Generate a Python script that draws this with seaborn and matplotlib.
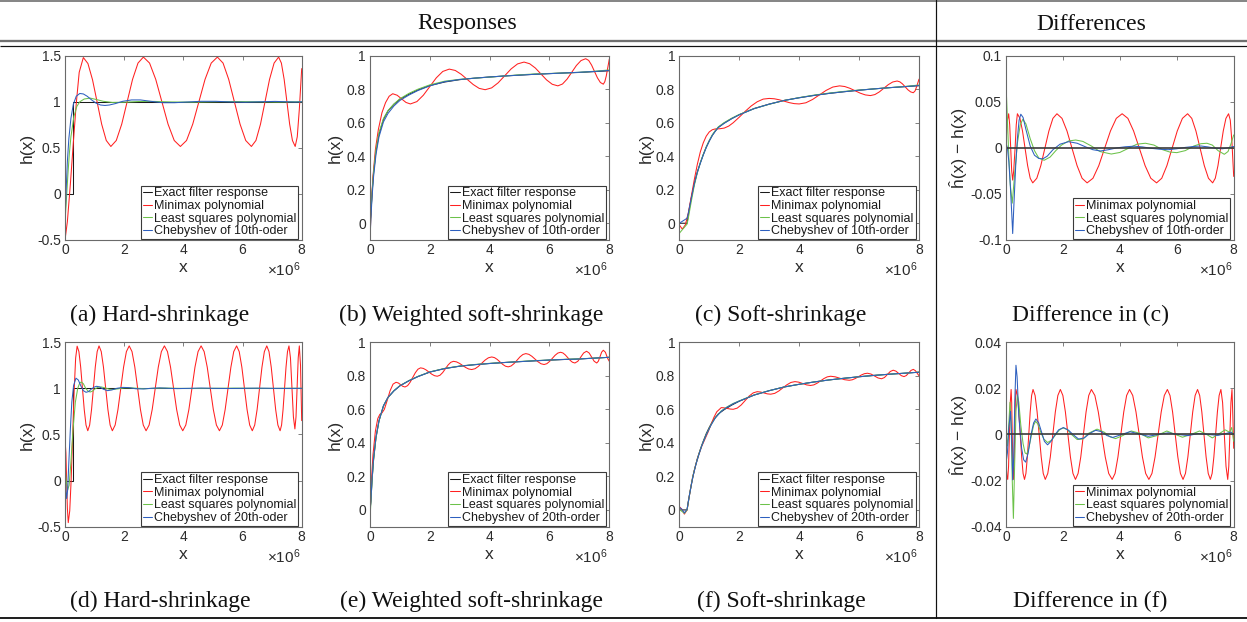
import matplotlib
matplotlib.use("Agg")
import matplotlib.pyplot as plt
import seaborn as sns
from matplotlib.lines import Line2D

sns.set_style("white")
plt.rcParams['font.family'] = ['Liberation Sans', 'DejaVu Sans']
plt.rcParams['axes.unicode_minus'] = False
plt.rcParams['mathtext.fontset'] = 'custom'
plt.rcParams['mathtext.rm'] = 'Liberation Sans'
plt.rcParams['mathtext.it'] = 'Liberation Sans:italic'

# ---------------- data (x in units of 1e6) ----------------
x_ticks = [0, 2, 4, 6, 8]
x_tick_labels = ['0', '2', '4', '6', '8']

# exact filter responses
hard_exact_x = [0, 0.27, 0.27, 8.0]
hard_exact_y = [0, 0, 1, 1]

wsoft_x = [0, 0.03, 0.07, 0.12, 0.2, 0.3, 0.45, 0.6, 0.8, 1.0, 1.3, 1.6, 2.0, 2.5, 3.0,
           3.5, 4.0, 4.5, 5.0, 5.5, 6.0, 6.5, 7.0, 7.5, 8.0]
wsoft_exact_y = [0.0, 0.05, 0.18, 0.30, 0.43, 0.53, 0.62, 0.67, 0.71, 0.74, 0.77, 0.795, 0.822,
                 0.843, 0.857, 0.866, 0.873, 0.879, 0.884, 0.889, 0.893, 0.897, 0.90, 0.905, 0.91]

soft_x = [0, 0.26, 0.3, 0.4, 0.5, 0.6, 0.7, 0.8, 0.9, 1.0, 1.1, 1.2, 1.3, 1.5, 1.75, 2.0,
          2.5, 3.0, 3.5, 4.0, 4.5, 5.0, 5.5, 6.0, 6.5, 7.0, 7.5, 8.0]
soft_exact_y = [0, 0, 0.05, 0.15, 0.235, 0.305, 0.36, 0.41, 0.455, 0.492, 0.525, 0.55, 0.572,
                0.598, 0.625, 0.648, 0.685, 0.711, 0.733, 0.749, 0.763, 0.775, 0.785, 0.794,
                0.802, 0.809, 0.815, 0.821]
softf_x = [0, 0.08, 0.17, 0.26, 0.35, 0.45, 0.55, 0.65, 0.75, 0.9, 1.05, 1.2, 1.4, 1.6, 1.8,
           2.0, 2.5, 3.0, 3.5, 4.0, 4.5, 5.0, 5.5, 6.0, 6.5, 7.0, 7.5, 8.0]

# (a) hard-shrinkage, 10th order
red_a_x = [0, 0.08, 0.18, 0.28, 0.38, 0.48, 0.62,
           0.775, 0.93, 1.085, 1.24, 1.395, 1.55,
           1.733, 1.917, 2.10, 2.283, 2.467, 2.65,
           2.858, 3.067, 3.275, 3.483, 3.692, 3.90,
           4.108, 4.317, 4.525, 4.733, 4.942, 5.15,
           5.342, 5.533, 5.725, 5.917, 6.108, 6.30,
           6.453, 6.607, 6.76, 6.913, 7.067, 7.22,
           7.313, 7.407, 7.50, 7.593, 7.687, 7.78,
           7.85, 7.92, 8.0]
red_a_y = [-0.5, -0.3, 0.1, 0.55, 0.98, 1.32, 1.48,
           1.415, 1.239, 0.998, 0.756, 0.58, 0.515,
           0.58, 0.757, 1.0, 1.243, 1.42, 1.485,
           1.42, 1.243, 1.0, 0.757, 0.58, 0.515,
           0.58, 0.757, 1.0, 1.243, 1.42, 1.485,
           1.42, 1.243, 1.0, 0.757, 0.58, 0.515,
           0.58, 0.757, 1.0, 1.243, 1.42, 1.485,
           1.42, 1.243, 1.0, 0.757, 0.58, 0.515,
           0.62, 0.92, 1.36]
green_a_x = [0, 0.05, 0.1, 0.15, 0.2, 0.3, 0.4, 0.5, 0.65, 0.85, 1.05, 1.3, 1.6, 2.0, 2.5, 3.0,
             3.6, 4.3, 5.0, 5.7, 6.5, 7.2, 7.7, 8.0]
green_a_y = [-0.3, -0.05, 0.22, 0.45, 0.62, 0.84, 0.95, 1.0, 1.03, 1.04, 1.025, 1.005, 0.993,
             0.995, 1.003, 1.004, 0.998, 0.996, 1.0, 1.003, 1.0, 0.997, 1.0, 1.0]
blue_a_x = [0, 0.04, 0.08, 0.13, 0.2, 0.28, 0.38, 0.5, 0.62, 0.75, 0.9, 1.05, 1.2, 1.35, 1.5,
            1.7, 1.95, 2.25, 2.55, 2.9, 3.3, 3.7, 4.1, 4.6, 5.1, 5.6, 6.1, 6.6, 7.1, 7.5, 7.8, 8.0]
blue_a_y = [-0.3, 0.05, 0.35, 0.6, 0.82, 0.97, 1.06, 1.09, 1.085, 1.06, 1.02, 0.985, 0.965, 0.96,
            0.965, 0.98, 1.005, 1.02, 1.02, 1.005, 0.99, 0.99, 0.997, 1.005, 1.005, 0.998, 0.995,
            1.0, 1.004, 1.0, 0.997, 1.0]

# (b) weighted soft-shrinkage, 10th order
red_b_x = [0, 0.04, 0.1, 0.18, 0.28, 0.4, 0.52, 0.64, 0.76,
           0.908, 1.055, 1.203, 1.35,
           1.567, 1.783, 2.0, 2.217, 2.433, 2.65,
           2.85, 3.05, 3.25, 3.45, 3.65, 3.85,
           4.067, 4.283, 4.5, 4.717, 4.933, 5.15,
           5.338, 5.527, 5.715, 5.903, 6.092, 6.28,
           6.435, 6.59, 6.745, 6.90, 7.055, 7.21,
           7.31, 7.408, 7.505, 7.603, 7.702, 7.8,
           7.85, 7.9, 7.95, 8.0]
red_b_y = [-0.1, 0.1, 0.28, 0.44, 0.56, 0.66, 0.72, 0.758, 0.773,
           0.764, 0.7425, 0.721, 0.712,
           0.726, 0.764, 0.816, 0.868, 0.906, 0.92,
           0.912, 0.889, 0.8585, 0.828, 0.805, 0.797,
           0.808, 0.838, 0.8795, 0.921, 0.951, 0.962,
           0.952, 0.9265, 0.891, 0.8555, 0.8295, 0.82,
           0.831, 0.8605, 0.901, 0.9415, 0.971, 0.982,
           0.972, 0.944, 0.906, 0.868, 0.84, 0.83,
           0.845, 0.88, 0.93, 0.98]
green_b_y = [-0.08, 0.06, 0.19, 0.31, 0.44, 0.54, 0.625, 0.672, 0.712, 0.743, 0.775, 0.80, 0.826,
             0.848, 0.859, 0.866, 0.872, 0.879, 0.886, 0.891, 0.894, 0.897, 0.901, 0.907, 0.915]
blue_b_y = [-0.1, 0.03, 0.16, 0.28, 0.41, 0.515, 0.605, 0.655, 0.70, 0.733, 0.765, 0.792, 0.82,
            0.845, 0.858, 0.866, 0.873, 0.879, 0.884, 0.889, 0.893, 0.897, 0.901, 0.906, 0.912]

# (c) soft-shrinkage, 10th order
red_c_x = [0, 0.1, 0.2, 0.3, 0.4, 0.5, 0.6, 0.7, 0.8, 0.9, 1.0, 1.1, 1.2, 1.35, 1.5, 1.65, 1.8,
           2.0, 2.2, 2.4, 2.6, 2.8, 3.0,
           3.167, 3.333, 3.5, 3.667, 3.833, 4.0,
           4.225, 4.45, 4.675, 4.9, 5.125, 5.35,
           5.522, 5.693, 5.865, 6.037, 6.208, 6.38,
           6.528, 6.677, 6.825, 6.973, 7.122, 7.27,
           7.36, 7.45, 7.54, 7.63, 7.72, 7.81,
           7.87, 7.93, 8.0]
red_c_y = [-0.01, -0.035, -0.01, 0.06, 0.16, 0.26, 0.35, 0.425, 0.48, 0.52, 0.545, 0.558, 0.563,
           0.564, 0.568, 0.58, 0.60, 0.633, 0.668, 0.70, 0.725, 0.741, 0.745,
           0.743, 0.737, 0.7285, 0.720, 0.714, 0.712,
           0.719, 0.739, 0.766, 0.793, 0.813, 0.82,
           0.816, 0.8055, 0.791, 0.7765, 0.766, 0.762,
           0.768, 0.784, 0.8055, 0.827, 0.843, 0.849,
           0.844, 0.8315, 0.814, 0.7965, 0.784, 0.779,
           0.79, 0.82, 0.86]
green_c_y = [-0.06, -0.005, 0.03, 0.13, 0.225, 0.30, 0.36, 0.41, 0.455, 0.493, 0.527, 0.553, 0.575,
             0.601, 0.627, 0.649, 0.684, 0.71, 0.733, 0.75, 0.765, 0.777, 0.787, 0.795, 0.802,
             0.809, 0.816, 0.825]
blue_c_y = [0.0, 0.03, 0.06, 0.15, 0.235, 0.303, 0.357, 0.407, 0.452, 0.49, 0.523, 0.549, 0.571,
            0.597, 0.624, 0.647, 0.684, 0.711, 0.733, 0.749, 0.763, 0.775, 0.785, 0.794, 0.802,
            0.809, 0.815, 0.822]

# difference in (c)
red_dc_x = [0, 0.05, 0.094, 0.13, 0.165, 0.2, 0.235, 0.27, 0.32, 0.36, 0.40,
            0.49, 0.58, 0.67, 0.76, 0.85, 0.94,
            1.082, 1.223, 1.365, 1.507, 1.648, 1.79,
            1.967, 2.143, 2.32, 2.497, 2.673, 2.85,
            3.055, 3.26, 3.465, 3.67, 3.875, 4.08,
            4.282, 4.483, 4.685, 4.887, 5.088, 5.29,
            5.472, 5.653, 5.835, 6.017, 6.198, 6.38,
            6.527, 6.673, 6.82, 6.967, 7.113, 7.26,
            7.353, 7.447, 7.54, 7.633, 7.727, 7.82,
            7.88, 7.94, 8.0]
red_dc_y = [0.005, 0.03, 0.037, 0.025, 0.0, -0.025, -0.035, -0.025, 0.0, 0.025, 0.037,
            0.032, 0.0183, -0.0005, -0.0193, -0.033, -0.038,
            -0.033, -0.0193, -0.0005, 0.0183, 0.032, 0.037,
            0.032, 0.0183, -0.0005, -0.0193, -0.033, -0.038,
            -0.033, -0.0193, -0.0005, 0.0183, 0.032, 0.037,
            0.032, 0.0183, -0.0005, -0.0193, -0.033, -0.038,
            -0.033, -0.0193, -0.0005, 0.0183, 0.032, 0.037,
            0.032, 0.0183, -0.0005, -0.0193, -0.033, -0.038,
            -0.033, -0.0193, -0.0005, 0.0183, 0.032, 0.037,
            0.03, 0.005, -0.031]
green_dc_x = [0, 0.05, 0.1, 0.15, 0.22, 0.3, 0.4, 0.5, 0.59, 0.7, 0.85, 1.0, 1.15, 1.34, 1.55,
              1.75, 1.95, 2.2, 2.45, 2.7, 3.0, 3.3, 3.7, 4.0, 4.3, 4.6, 4.9, 5.2, 5.5, 5.75,
              6.0, 6.3, 6.6, 6.85, 7.06, 7.25, 7.45, 7.67, 7.8, 7.9, 8.0]
green_dc_y = [0.07, 0.03, -0.01, -0.04, -0.06, -0.03, 0.005, 0.025, 0.031, 0.026, 0.01, -0.003,
              -0.011, -0.0135, -0.01, -0.003, 0.003, 0.0075, 0.0085, 0.007, 0.002, -0.004,
              -0.0067, -0.005, -0.0005, 0.004, 0.005, 0.003, -0.002, -0.0045, -0.0052, -0.003,
              0.002, 0.0045, 0.005, 0.003, -0.003, -0.007, -0.004, 0.004, 0.014]
blue_dc_x = [0, 0.05, 0.1, 0.15, 0.2, 0.235, 0.28, 0.34, 0.4, 0.46, 0.52, 0.6, 0.7, 0.85, 1.0,
             1.15, 1.29, 1.45, 1.65, 1.9, 2.2, 2.5, 2.8, 3.05, 3.32, 3.6, 3.9, 4.2, 4.5, 4.8,
             5.1, 5.4, 5.7, 6.0, 6.3, 6.6, 6.85, 7.1, 7.35, 7.6, 7.8, 8.0]
blue_dc_y = [0.005, 0.0, -0.015, -0.04, -0.07, -0.093, -0.06, -0.02, 0.01, 0.03, 0.0365, 0.033,
             0.02, 0.002, -0.008, -0.0115, -0.012, -0.009, -0.002, 0.004, 0.0067, 0.005, 0.001,
             -0.002, -0.0034, -0.002, 0.0, 0.0012, 0.0018, 0.001, -0.0005, -0.0015, -0.002,
             -0.001, 0.0005, 0.0015, 0.002, 0.001, -0.0005, -0.001, 0.0, 0.0015]

# (d) hard-shrinkage, 20th order
red_d_x = [0, 0.03, 0.055, 0.08, 0.11,
           0.16, 0.21, 0.26, 0.31, 0.36, 0.41,
           0.47, 0.53, 0.59, 0.65, 0.71, 0.77,
           0.833, 0.897, 0.96, 1.023, 1.087, 1.15,
           1.225, 1.3, 1.375, 1.45, 1.525, 1.6,
           1.695, 1.79, 1.885, 1.98, 2.075, 2.17,
           2.265, 2.36, 2.455, 2.55, 2.645, 2.74,
           2.843, 2.947, 3.05, 3.153, 3.257, 3.36,
           3.463, 3.567, 3.67, 3.773, 3.877, 3.98,
           4.083, 4.187, 4.29, 4.393, 4.497, 4.6,
           4.703, 4.807, 4.91, 5.013, 5.117, 5.22,
           5.317, 5.413, 5.51, 5.607, 5.703, 5.8,
           5.888, 5.977, 6.065, 6.153, 6.242, 6.33,
           6.412, 6.493, 6.575, 6.657, 6.738, 6.82,
           6.895, 6.97, 7.045, 7.12, 7.195, 7.27,
           7.32, 7.37, 7.42, 7.47, 7.52, 7.57,
           7.62, 7.67, 7.72, 7.77,
           7.8075, 7.845, 7.8825, 7.92,
           7.96, 8.0]
red_d_y = [0.45, 0.3, 0.0, -0.3, -0.456,
           -0.328, 0.022, 0.5, 0.979, 1.329, 1.457,
           1.398, 1.23, 1.0, 0.77, 0.602, 0.54,
           0.602, 0.77, 1.0, 1.23, 1.398, 1.46,
           1.398, 1.23, 1.0, 0.77, 0.602, 0.54,
           0.602, 0.77, 1.0, 1.23, 1.398, 1.46,
           1.398, 1.23, 1.0, 0.77, 0.602, 0.54,
           0.602, 0.77, 1.0, 1.23, 1.398, 1.46,
           1.398, 1.23, 1.0, 0.77, 0.602, 0.54,
           0.602, 0.77, 1.0, 1.23, 1.398, 1.46,
           1.398, 1.23, 1.0, 0.77, 0.602, 0.54,
           0.602, 0.77, 1.0, 1.23, 1.398, 1.46,
           1.398, 1.23, 1.0, 0.77, 0.602, 0.54,
           0.602, 0.77, 1.0, 1.23, 1.398, 1.46,
           1.398, 1.23, 1.0, 0.77, 0.602, 0.54,
           0.602, 0.77, 1.0, 1.23, 1.398, 1.46,
           1.33, 1.01, 0.69, 0.56,
           0.69, 1.01, 1.33, 1.46,
           1.25, 0.65]
green_d_x = [0, 0.04, 0.09, 0.14, 0.2, 0.27, 0.35, 0.43, 0.5, 0.55, 0.62, 0.7, 0.78, 0.85, 0.93,
             1.02, 1.12, 1.22, 1.35, 1.5, 1.65, 1.8, 2.0, 2.2, 2.45, 2.7, 3.0, 3.4, 3.8, 4.3,
             5.0, 5.7, 6.4, 7.1, 7.6, 8.0]
green_d_y = [0.15, 0.0, -0.1, -0.05, 0.2, 0.55, 0.85, 1.0, 1.06, 1.068, 1.05, 1.0, 0.97, 0.96,
             0.97, 0.995, 1.012, 1.015, 1.005, 0.99, 0.988, 0.995, 1.005, 1.006, 1.0, 0.996,
             1.0, 1.003, 1.0, 0.998, 1.0, 1.002, 1.0, 0.999, 1.001, 1.0]
blue_d_x = [0, 0.03, 0.056, 0.09, 0.13, 0.18, 0.23, 0.29, 0.37, 0.45, 0.53, 0.62, 0.71, 0.8,
            0.9, 1.0, 1.07, 1.17, 1.3, 1.44, 1.58, 1.75, 1.95, 2.15, 2.4, 2.65, 2.9, 3.2, 3.5,
            3.8, 4.2, 4.6, 5.0, 5.5, 6.0, 6.5, 7.0, 7.5, 8.0]
blue_d_y = [0.1, -0.1, -0.195, -0.1, 0.2, 0.55, 0.85, 1.03, 1.11, 1.09, 1.03, 0.975, 0.957,
            0.965, 0.995, 1.015, 1.022, 1.015, 0.99, 0.975, 0.982, 1.0, 1.01, 1.008, 0.995,
            0.993, 1.0, 1.005, 1.0, 0.997, 1.0, 1.003, 1.0, 0.998, 1.0, 1.002, 1.0, 0.999, 1.0]

# (e) weighted soft-shrinkage, 20th order
red_e_x = [0, 0.04, 0.1, 0.18, 0.26, 0.33, 0.4, 0.48, 0.57, 0.67, 0.77, 0.87,
           0.945, 1.02, 1.095, 1.17,
           1.257, 1.343, 1.43, 1.517, 1.603, 1.69,
           1.783, 1.877, 1.97, 2.063, 2.157, 2.25,
           2.34, 2.43, 2.52, 2.61, 2.70, 2.79,
           2.892, 2.993, 3.095, 3.197, 3.298, 3.4,
           3.512, 3.623, 3.735, 3.847, 3.958, 4.07,
           4.162, 4.253, 4.345, 4.437, 4.528, 4.62,
           4.718, 4.817, 4.915, 5.013, 5.112, 5.21,
           5.312, 5.413, 5.515, 5.617, 5.718, 5.82,
           5.912, 6.003, 6.095, 6.187, 6.278, 6.37,
           6.45, 6.53, 6.61, 6.69, 6.77, 6.85,
           6.9475, 7.045, 7.1425, 7.24,
           7.325, 7.41, 7.495, 7.58,
           7.635, 7.69, 7.745, 7.8,
           7.87, 7.94, 8.0]
red_e_y = [-0.05, 0.15, 0.33, 0.47, 0.545, 0.57, 0.578, 0.6, 0.65, 0.71, 0.75, 0.761,
           0.757, 0.747, 0.737, 0.733,
           0.741, 0.7615, 0.79, 0.8185, 0.839, 0.847,
           0.8437, 0.8345, 0.822, 0.8095, 0.8003, 0.797,
           0.803, 0.819, 0.8415, 0.864, 0.880, 0.886,
           0.8827, 0.8738, 0.8615, 0.8493, 0.8403, 0.837,
           0.842, 0.8558, 0.8745, 0.8933, 0.907, 0.912,
           0.908, 0.8973, 0.8825, 0.8678, 0.857, 0.853,
           0.8583, 0.8728, 0.8925, 0.9123, 0.9267, 0.932,
           0.9276, 0.9158, 0.8995, 0.8833, 0.8714, 0.867,
           0.8719, 0.8853, 0.9035, 0.9218, 0.9351, 0.94,
           0.9357, 0.924, 0.908, 0.892, 0.8803, 0.876,
           0.8862, 0.911, 0.9358, 0.946,
           0.9358, 0.911, 0.8862, 0.876,
           0.887, 0.914, 0.941, 0.952,
           0.94, 0.905, 0.886]
green_e_y = [-0.06, 0.05, 0.18, 0.30, 0.43, 0.53, 0.62, 0.67, 0.711, 0.741, 0.771, 0.796, 0.823,
             0.844, 0.858, 0.867, 0.874, 0.879, 0.885, 0.89, 0.894, 0.898, 0.901, 0.905, 0.91]
blue_e_y = [-0.03, 0.06, 0.19, 0.31, 0.435, 0.532, 0.621, 0.671, 0.71, 0.74, 0.77, 0.795, 0.822,
            0.843, 0.857, 0.866, 0.873, 0.879, 0.884, 0.889, 0.894, 0.897, 0.90, 0.905, 0.91]

# (f) soft-shrinkage, 20th order
red_f_x = [0, 0.08, 0.17, 0.26, 0.35, 0.45, 0.55, 0.65, 0.75, 0.85, 0.95, 1.05, 1.15, 1.25, 1.4,
           1.5, 1.6, 1.7, 1.8,
           1.933, 2.067, 2.2, 2.333, 2.467, 2.6,
           2.7125, 2.825, 2.9375, 3.05,
           3.185, 3.32, 3.455, 3.59, 3.725, 3.86,
           3.99, 4.12, 4.25, 4.38,
           4.492, 4.603, 4.715, 4.827, 4.938, 5.05,
           5.205, 5.36, 5.515, 5.67,
           5.772, 5.873, 5.975, 6.077, 6.178, 6.28,
           6.3975, 6.515, 6.6325, 6.75,
           6.8475, 6.945, 7.0425, 7.14,
           7.23, 7.32, 7.41, 7.5,
           7.5775, 7.655, 7.7325, 7.81,
           7.88, 7.94, 8.0]
red_f_y = [0.02, 0.005, -0.025, 0.0, 0.1, 0.2, 0.27, 0.33, 0.38, 0.42, 0.46, 0.505, 0.55, 0.585, 0.61,
           0.6085, 0.605, 0.6015, 0.60,
           0.607, 0.626, 0.6525, 0.679, 0.698, 0.705,
           0.703, 0.6975, 0.692, 0.69,
           0.695, 0.709, 0.7275, 0.746, 0.76, 0.765,
           0.7616, 0.7535, 0.7454, 0.742,
           0.7457, 0.7558, 0.7695, 0.7833, 0.7933, 0.797,
           0.7935, 0.785, 0.7765, 0.773,
           0.7758, 0.7835, 0.794, 0.8045, 0.8122, 0.815,
           0.8102, 0.7985, 0.7868, 0.782,
           0.7894, 0.8075, 0.8256, 0.833,
           0.8275, 0.814, 0.8005, 0.795,
           0.8013, 0.8165, 0.8317, 0.838,
           0.83, 0.815, 0.80]
green_f_y = [0.005, -0.008, -0.02, 0.0, 0.1, 0.2, 0.27, 0.33, 0.385, 0.45, 0.505, 0.55, 0.59,
             0.615, 0.635, 0.65, 0.686, 0.711, 0.733, 0.749, 0.763, 0.775, 0.785, 0.794, 0.802,
             0.809, 0.815, 0.822]
blue_f_y = [0.015, 0.005, -0.018, 0.005, 0.1, 0.195, 0.268, 0.328, 0.383, 0.448, 0.503, 0.548,
            0.588, 0.613, 0.633, 0.649, 0.685, 0.711, 0.733, 0.749, 0.763, 0.775, 0.785, 0.794,
            0.802, 0.809, 0.815, 0.821]

# difference in (f)
red_df_x = [0, 0.03, 0.06,
            0.09, 0.12, 0.15, 0.18,
            0.2, 0.22, 0.24, 0.26,
            0.2825, 0.305, 0.3275, 0.35,
            0.4, 0.45, 0.5, 0.55, 0.6, 0.65,
            0.7, 0.75, 0.8, 0.85, 0.9, 0.95,
            1.022, 1.093, 1.165, 1.237, 1.308, 1.38,
            1.468, 1.557, 1.645, 1.733, 1.822, 1.91,
            1.998, 2.087, 2.175, 2.263, 2.352, 2.44,
            2.533, 2.627, 2.72, 2.813, 2.907, 3.0,
            3.122, 3.243, 3.365, 3.487, 3.608, 3.73,
            3.832, 3.933, 4.035, 4.137, 4.238, 4.34,
            4.453, 4.567, 4.68, 4.793, 4.907, 5.02,
            5.128, 5.237, 5.345, 5.453, 5.562, 5.67,
            5.762, 5.853, 5.945, 6.037, 6.128, 6.22,
            6.305, 6.39, 6.475, 6.56, 6.645, 6.73,
            6.805, 6.88, 6.955, 7.03, 7.105, 7.18,
            7.242, 7.303, 7.365, 7.427, 7.488, 7.55,
            7.61, 7.67, 7.73, 7.79,
            7.8275, 7.865, 7.9025, 7.94,
            7.97, 8.0]
red_df_y = [-0.012, -0.018, -0.0195,
            -0.0138, 0.0, 0.0138, 0.0195,
            0.0138, 0.0, -0.0138, -0.0195,
            -0.0138, 0.0, 0.0138, 0.0195,
            0.0169, 0.00975, 0.0, -0.00975, -0.0169, -0.0195,
            -0.0169, -0.00975, 0.0, 0.00975, 0.0169, 0.0195,
            0.0169, 0.00975, 0.0, -0.00975, -0.0169, -0.0195,
            -0.0169, -0.00975, 0.0, 0.00975, 0.0169, 0.0195,
            0.0169, 0.00975, 0.0, -0.00975, -0.0169, -0.0195,
            -0.0169, -0.00975, 0.0, 0.00975, 0.0169, 0.0195,
            0.0169, 0.00975, 0.0, -0.00975, -0.0169, -0.0195,
            -0.0169, -0.00975, 0.0, 0.00975, 0.0169, 0.0195,
            0.0169, 0.00975, 0.0, -0.00975, -0.0169, -0.0195,
            -0.0169, -0.00975, 0.0, 0.00975, 0.0169, 0.0195,
            0.0169, 0.00975, 0.0, -0.00975, -0.0169, -0.0195,
            -0.0169, -0.00975, 0.0, 0.00975, 0.0169, 0.0195,
            0.0169, 0.00975, 0.0, -0.00975, -0.0169, -0.0195,
            -0.0169, -0.00975, 0.0, 0.00975, 0.0169, 0.0195,
            0.0138, 0.0, -0.0138, -0.0195,
            -0.0138, 0.0, 0.0138, 0.0195,
            0.008, -0.006]
green_df_x = [0, 0.05, 0.1, 0.14, 0.18, 0.22, 0.26, 0.3, 0.35, 0.4, 0.45, 0.52, 0.6, 0.67, 0.73,
              0.8, 0.9, 0.97, 1.04, 1.12, 1.22, 1.33, 1.46, 1.6, 1.75, 1.88, 2.0, 2.15, 2.3, 2.5,
              2.7, 2.9, 3.2, 3.45, 3.65, 3.85, 4.1, 4.4, 4.7, 5.0, 5.3, 5.65, 5.95, 6.2, 6.5,
              6.8, 7.05, 7.25, 7.45, 7.7, 7.85, 7.93, 8.0]
green_df_y = [0.0, -0.005, 0.005, 0.0139, 0.005, -0.02, -0.0364, -0.015, 0.01, 0.017, 0.014,
              0.004, -0.004, -0.008, -0.0085, -0.006, 0.0, 0.004, 0.0057, 0.0045, 0.001, -0.002,
              -0.0035, -0.0025, 0.0, 0.002, 0.0028, 0.0022, 0.0, -0.0022, -0.002, 0.0005, 0.0023,
              0.001, -0.001, -0.0018, -0.0005, 0.0015, 0.0005, -0.0015, -0.0005, 0.0015, 0.0,
              -0.0012, 0.0, 0.0015, 0.0, -0.0015, 0.0, 0.002, 0.001, 0.003, -0.003]
blue_df_x = [0, 0.05, 0.1, 0.16, 0.2, 0.235, 0.27, 0.31, 0.35, 0.39, 0.45, 0.55, 0.62, 0.69, 0.78,
             0.88, 0.97, 1.05, 1.15, 1.25, 1.35, 1.46, 1.58, 1.7, 1.85, 2.02, 2.2, 2.35, 2.55,
             2.75, 2.95, 3.15, 3.35, 3.55, 3.75, 4.0, 4.35, 4.65, 5.0, 5.35, 5.7, 6.05, 6.4,
             6.75, 7.1, 7.45, 7.7, 7.9, 8.0]
blue_df_y = [-0.0125, -0.008, 0.003, 0.01, -0.002, -0.0197, -0.01, 0.015, 0.030, 0.025, 0.008,
             -0.006, -0.011, -0.012, -0.008, 0.0, 0.005, 0.0067, 0.005, 0.001, -0.003, -0.0045,
             -0.003, -0.0005, 0.002, 0.003, 0.0018, 0.0, -0.002, -0.0015, 0.0005, 0.0018, 0.0012,
             -0.0005, -0.0013, -0.0003, 0.0012, 0.0003, -0.0008, 0.0, 0.0007, 0.0, -0.0005,
             0.0004, 0.0, -0.0004, 0.0003, 0.001, 0.0]

zero_x = [0, 8]
zero_y = [0, 0]

lab_exact = "Exact filter response"
lab_minimax = "Minimax polynomial"
lab_ls = "Least squares polynomial"

captions = ["(a) Hard-shrinkage", "(b) Weighted soft-shrinkage", "(c) Soft-shrinkage",
            "Difference in (c)", "(d) Hard-shrinkage", "(e) Weighted soft-shrinkage",
            "(f) Soft-shrinkage", "Difference in (f)"]

# ---------------- style ----------------
RED = '#ff2020'
GREEN = '#6cc24a'
BLUE = '#2d5fbf'
BLACK = '#1a1a1a'
LW = 0.75
TXT = '#2b2b2b'
EDGE = '#6a6a6a'

W, H = 1247, 622
fig = plt.figure(figsize=(W / 100, H / 100), dpi=100)


def fx(px):
    return px / W


def fy(py):
    return 1 - py / H


cols = [(65, 301.7), (370, 609.3), (679.3, 919.0), (1006.0, 1233.7)]
rows = [(55.7, 240.0), (342.2, 526.7)]
ylab_px = [27, 335, 646.7, 958.3]

hard_ticks = ([-0.5, 0, 0.5, 1, 1.5], ['-0.5', '0', '0.5', '1', '1.5'], (-0.5, 1.5))
resp_ticks = ([0, 0.2, 0.4, 0.6, 0.8, 1.0], ['0', '0.2', '0.4', '0.6', '0.8', '1'], (-0.1, 1.0))
dc_ticks = ([-0.1, -0.05, 0, 0.05, 0.1], ['-0.1', '-0.05', '0', '0.05', '0.1'], (-0.1, 0.1))
df_ticks = ([-0.04, -0.02, 0, 0.02, 0.04], ['-0.04', '-0.02', '0', '0.02', '0.04'], (-0.04, 0.04))

panels = [
    # row 0
    dict(r=0, c=0, ticks=hard_ticks, ylabel='h(x)', zero=False,
         curves=[(hard_exact_x, hard_exact_y, BLACK, lab_exact),
                 (red_a_x, red_a_y, RED, lab_minimax),
                 (green_a_x, green_a_y, GREEN, lab_ls),
                 (blue_a_x, blue_a_y, BLUE, "Chebyshev of 10th-oder")]),
    dict(r=0, c=1, ticks=resp_ticks, ylabel='h(x)', zero=False,
         curves=[(wsoft_x, wsoft_exact_y, BLACK, lab_exact),
                 (red_b_x, red_b_y, RED, lab_minimax),
                 (wsoft_x, green_b_y, GREEN, lab_ls),
                 (wsoft_x, blue_b_y, BLUE, "Chebyshev of 10th-order")]),
    dict(r=0, c=2, ticks=resp_ticks, ylabel='h(x)', zero=False,
         curves=[(soft_x, soft_exact_y, BLACK, lab_exact),
                 (red_c_x, red_c_y, RED, lab_minimax),
                 (soft_x, green_c_y, GREEN, lab_ls),
                 (soft_x, blue_c_y, BLUE, "Chebyshev of 10th-order")]),
    dict(r=0, c=3, ticks=dc_ticks, ylabel='ĥ(x) − h(x)', zero=True,
         curves=[(red_dc_x, red_dc_y, RED, lab_minimax),
                 (green_dc_x, green_dc_y, GREEN, lab_ls),
                 (blue_dc_x, blue_dc_y, BLUE, "Chebyshev of 10th-order")]),
    # row 1
    dict(r=1, c=0, ticks=hard_ticks, ylabel='h(x)', zero=False,
         curves=[(hard_exact_x, hard_exact_y, BLACK, lab_exact),
                 (red_d_x, red_d_y, RED, lab_minimax),
                 (green_d_x, green_d_y, GREEN, lab_ls),
                 (blue_d_x, blue_d_y, BLUE, "Chebyshev of 20th-oder")]),
    dict(r=1, c=1, ticks=resp_ticks, ylabel='h(x)', zero=False,
         curves=[(wsoft_x, wsoft_exact_y, BLACK, lab_exact),
                 (red_e_x, red_e_y, RED, lab_minimax),
                 (wsoft_x, green_e_y, GREEN, lab_ls),
                 (wsoft_x, blue_e_y, BLUE, "Chebyshev of 20th-order")]),
    dict(r=1, c=2, ticks=resp_ticks, ylabel='h(x)', zero=False,
         curves=[(soft_x, soft_exact_y, BLACK, lab_exact),
                 (red_f_x, red_f_y, RED, lab_minimax),
                 (softf_x, green_f_y, GREEN, lab_ls),
                 (softf_x, blue_f_y, BLUE, "Chebyshev of 20th-order")]),
    dict(r=1, c=3, ticks=df_ticks, ylabel='ĥ(x) − h(x)', zero=True,
         curves=[(red_df_x, red_df_y, RED, lab_minimax),
                 (green_df_x, green_df_y, GREEN, lab_ls),
                 (blue_df_x, blue_df_y, BLUE, "Chebyshev of 20th-order")]),
]

for p in panels:
    (l, rgt), (t, b) = cols[p['c']], rows[p['r']]
    wpx, hpx = rgt - l, b - t
    ax = fig.add_axes([fx(l), fy(b), wpx / W, hpx / H])
    for xs, ys, col, lab in p['curves']:
        sns.lineplot(x=xs, y=ys, ax=ax, color=col, lw=LW, label=lab,
                     estimator=None, sort=False, legend=False)
    if p['zero']:
        sns.lineplot(x=zero_x, y=zero_y, ax=ax, color='#3a3a3a', lw=1.2,
                     estimator=None, sort=False, legend=False)
    yt, ytl, ylim = p['ticks']
    ax.set_xlim(0, 8)
    ax.set_ylim(*ylim)
    ax.set_xticks(x_ticks)
    ax.set_xticklabels(x_tick_labels)
    ax.set_yticks(yt)
    ax.set_yticklabels(ytl)
    ax.set_xlabel('')
    ax.set_ylabel('')
    ax.tick_params(axis='both', direction='in', length=3, width=0.6, top=True, right=True,
                   color=EDGE, labelcolor=TXT, labelsize=10)
    ax.tick_params(axis='x', pad=2.5)
    ax.tick_params(axis='y', pad=3)
    for sp in ax.spines.values():
        sp.set_color(EDGE)
        sp.set_linewidth(0.8)
    ax.set_facecolor('white')
    # labels
    ax.text((ylab_px[p['c']] - l) / wpx, 0.5, p['ylabel'], rotation=90, ha='center',
            va='center', transform=ax.transAxes, fontsize=12.5, color=TXT)
    ax.text(0.5, -32.5 / hpx, 'x', ha='center', va='baseline', transform=ax.transAxes,
            fontsize=12.5, color=TXT)
    ax.text(1 - 1.7 / wpx, -36.0 / hpx, r'$\times10^{6}$', ha='right', va='baseline',
            transform=ax.transAxes, fontsize=11, color=TXT)
    # legend
    handles, labels = ax.get_legend_handles_labels()
    leg = ax.legend(handles, labels, loc='lower right',
                    bbox_to_anchor=(1 - 3.5 / wpx, 0.8 / hpx), bbox_transform=ax.transAxes,
                    borderaxespad=0, prop={'family': 'Liberation Sans', 'size': 9},
                    handlelength=0.75, handletextpad=0.15, borderpad=0.15, labelspacing=0.05,
                    fancybox=False, framealpha=1, edgecolor='#3a3a3a', frameon=True)
    leg.get_frame().set_linewidth(0.8)
    for txt in leg.get_texts():
        txt.set_color('#1a1a1a')

# ---------------- table decorations ----------------
serif = ['Liberation Serif', 'DejaVu Serif']
fig.text(fx(467.5), fy(29.5), "Responses", ha='center', va='baseline', family=serif,
         fontsize=17, color='#111111')
fig.text(fx(1091), fy(29.5), "Differences", ha='center', va='baseline', family=serif,
         fontsize=17, color='#111111')

cap_x = [160, 471, 781, 1090]
cap_y = [321, 607.5]
for i, cap in enumerate(captions):
    fig.text(fx(cap_x[i % 4]), fy(cap_y[i // 4]), cap, ha='center', va='baseline',
             family=serif, fontsize=17, color='#111111')


def hline(ypx, lw_px, color):
    fig.add_artist(Line2D([0, 1], [fy(ypx), fy(ypx)], transform=fig.transFigure,
                          color=color, lw=lw_px * 0.72, solid_capstyle='butt'))


hline(0.8, 1.6, '#6a6a6a')
hline(41.2, 2.3, '#707070')
hline(46.3, 1.2, '#111111')
hline(618.3, 2.0, '#222222')
fig.add_artist(Line2D([fx(935.5), fx(935.5)], [fy(0), fy(618)], transform=fig.transFigure,
                      color='#111111', lw=1.2 * 0.72))

fig.savefig('out.png', dpi=100, facecolor='white')
